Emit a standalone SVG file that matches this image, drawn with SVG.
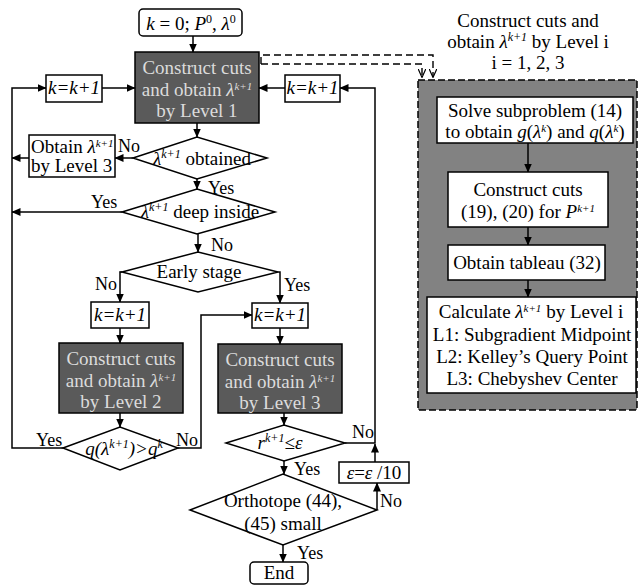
<svg xmlns="http://www.w3.org/2000/svg" width="641" height="587" viewBox="0 0 641 587">
<defs>
<marker id="ah" markerWidth="9" markerHeight="8" refX="8.5" refY="4" orient="auto" markerUnits="userSpaceOnUse"><path d="M0,0 L9,4 L0,8 z" fill="#000"/></marker>
<marker id="ao" markerWidth="9" markerHeight="8" refX="8.5" refY="4" orient="auto" markerUnits="userSpaceOnUse"><path d="M0,0 L9,4 L0,8" fill="none" stroke="#000" stroke-width="1.2"/></marker>
<style>
text{font-family:"Liberation Serif","Times New Roman",serif;font-size:19px;fill:#000;text-anchor:middle}
.lb{font-size:18px;text-anchor:start}
.st{text-anchor:start}
.i{font-style:italic}
.dk text{fill:#dcdcdc}
.box{fill:#fff;stroke:#000;stroke-width:1.5}
.dbox{fill:#5a5a5a;stroke:#000;stroke-width:1.5}
.dia{fill:#fff;stroke:#000;stroke-width:1.5}
#connectors path{fill:none;stroke:#000;stroke-width:1.5}
#connectors path.dash{stroke-dasharray:7,4;stroke-width:1.4}
</style>
</defs>
<rect width="641" height="587" fill="#fff"/>

<g id="panel">
<rect x="418" y="80" width="219" height="330" fill="#828282" stroke="#000" stroke-width="1.5" stroke-dasharray="7,3"/>
<text x="528" y="27">Construct cuts and</text>
<text x="528" y="48">obtain <tspan class="i">λ</tspan><tspan dy="-7" font-size="12" class="i">k+1</tspan><tspan dy="7"> by Level i</tspan></text>
<text x="528" y="69">i = 1, 2, 3</text>
</g>

<g id="connectors">
<path d="M193,36 V52" marker-end="url(#ah)"/>
<path d="M102,88 H135" marker-end="url(#ah)"/>
<path d="M285,88 H259" marker-end="url(#ah)"/>
<path d="M197,123 V137" marker-end="url(#ah)"/>
<path d="M133,158 H115" marker-end="url(#ah)"/>
<path d="M29,158 H12" marker-end="url(#ah)"/>
<path d="M197,179 V189" marker-end="url(#ah)"/>
<path d="M122,212 H12" marker-end="url(#ah)"/>
<path d="M198,234 V252" marker-end="url(#ah)"/>
<path d="M122,272 H120 V302" marker-end="url(#ah)"/>
<path d="M278,272 H280 V303" marker-end="url(#ah)"/>
<path d="M120,328 V343" marker-end="url(#ah)"/>
<path d="M280,328 V344" marker-end="url(#ah)"/>
<path d="M120,413 V427" marker-end="url(#ah)"/>
<path d="M284,413 V425" marker-end="url(#ah)"/>
<path d="M63,448 H12 V88 H46" marker-end="url(#ah)"/>
<path d="M178,448 H201 V315 H252" marker-end="url(#ah)"/>
<path d="M345,443 H375 V88 H340" marker-end="url(#ah)"/>
<path d="M375,462 V444" marker-end="url(#ah)"/>
<path d="M284,461 V474" marker-end="url(#ah)"/>
<path d="M377,510 V483" marker-end="url(#ah)"/>
<path d="M283,545 V562" marker-end="url(#ah)"/>
<path class="dash" d="M261,64 V55 H433 V77" marker-end="url(#ao)"/>
<path class="dash" d="M261,64 H422 V77" marker-end="url(#ao)"/>
<path d="M528,143 V172" marker-end="url(#ah)"/>
<path d="M528,227 V245" marker-end="url(#ah)"/>
<path d="M528,280 V297" marker-end="url(#ah)"/>
</g>

<g id="start">
<rect class="box" x="139" y="9" width="103" height="27" rx="4"/>
<text x="191" y="30"><tspan class="i">k</tspan> = 0; <tspan class="i">P</tspan><tspan dy="-7" font-size="12">0</tspan><tspan dy="7">, </tspan><tspan class="i">λ</tspan><tspan dy="-7" font-size="12">0</tspan></text>
</g>

<g id="level1" class="dk">
<rect class="dbox" x="135" y="52" width="124" height="71"/>
<text x="197" y="74">Construct cuts</text>
<text x="197" y="96">and obtain <tspan class="i">λ</tspan><tspan dy="-6" font-size="11" class="i">k+1</tspan></text>
<text x="197" y="117">by Level 1</text>
</g>

<g id="kL">
<rect class="box" x="46" y="75" width="56" height="27"/>
<text x="74" y="94" class="i">k=k+1</text>
</g>

<g id="kR">
<rect class="box" x="285" y="75" width="55" height="27"/>
<text x="312.5" y="94" class="i">k=k+1</text>
</g>

<g id="obtainL3">
<rect class="box" x="29" y="135" width="86" height="42"/>
<text x="31" y="153" class="st" font-size="17">Obtain <tspan class="i">λ</tspan><tspan dy="-6" font-size="11" class="i">k+1</tspan></text>
<text x="31" y="172" class="st" font-size="17">by Level 3</text>
</g>

<g id="dObtained">
<polygon class="dia" points="133,158 197,137 267,158 197,179"/>
<text x="202" y="165"><tspan class="i">λ</tspan><tspan dy="-7" font-size="12" class="i">k+1</tspan><tspan dy="7"> obtained</tspan></text>
</g>

<g id="dDeep">
<polygon class="dia" points="122,212 197,189 275,212 197,234"/>
<text x="200" y="218"><tspan class="i">λ</tspan><tspan dy="-7" font-size="12" class="i">k+1</tspan><tspan dy="7"> deep inside</tspan></text>
</g>

<g id="dEarly">
<polygon class="dia" points="122,272 198,252 278,272 198,292"/>
<text x="199" y="278">Early stage</text>
</g>

<g id="kL2">
<rect class="box" x="91" y="302" width="58" height="26"/>
<text x="120" y="321" class="i">k=k+1</text>
</g>

<g id="kR2">
<rect class="box" x="252" y="303" width="56" height="25"/>
<text x="280" y="321" class="i">k=k+1</text>
</g>

<g id="level2" class="dk">
<rect class="dbox" x="59" y="343" width="124" height="70"/>
<text x="121" y="365">Construct cuts</text>
<text x="121" y="387">and obtain <tspan class="i">λ</tspan><tspan dy="-6" font-size="11" class="i">k+1</tspan></text>
<text x="121" y="408">by Level 2</text>
</g>

<g id="level3" class="dk">
<rect class="dbox" x="218" y="344" width="124" height="69"/>
<text x="280" y="366">Construct cuts</text>
<text x="280" y="388">and obtain <tspan class="i">λ</tspan><tspan dy="-6" font-size="11" class="i">k+1</tspan></text>
<text x="280" y="409">by Level 3</text>
</g>

<g id="dQ">
<polygon class="dia" points="63,448 120,427 178,448 120,470"/>
<text x="124" y="455" class="i">q(λ<tspan dy="-7" font-size="12">k+1</tspan><tspan dy="7">)&gt;q</tspan><tspan dy="-7" font-size="12">k</tspan></text>
</g>

<g id="dR">
<polygon class="dia" points="226,443 284,425 345,443 284,461"/>
<text x="280" y="449"><tspan class="i">r</tspan><tspan dy="-7" font-size="12" class="i">k+1</tspan><tspan dy="7">≤</tspan><tspan class="i">ε</tspan></text>
</g>

<g id="eps">
<rect class="box" x="339" y="462" width="70" height="21"/>
<text x="374" y="479"><tspan class="i">ε</tspan>=<tspan class="i">ε</tspan> /10</text>
</g>

<g id="dOrtho">
<polygon class="dia" points="190,510 283,474 377,510 283,545"/>
<text x="283" y="507">Orthotope (44),</text>
<text x="283" y="530">(45) small</text>
</g>

<g id="end">
<rect class="box" x="250" y="562" width="58" height="22" rx="4"/>
<text x="279" y="579">End</text>
</g>

<g id="solve">
<rect class="box" x="437" y="97" width="196" height="46"/>
<text x="535" y="117">Solve subproblem (14)</text>
<text x="535" y="138">to obtain <tspan class="i">g</tspan>(<tspan class="i">λ</tspan><tspan dy="-6" font-size="11" class="i">k</tspan><tspan dy="6">) and </tspan><tspan class="i">q</tspan>(<tspan class="i">λ</tspan><tspan dy="-6" font-size="11" class="i">k</tspan><tspan dy="6">)</tspan></text>
</g>

<g id="cuts">
<rect class="box" x="448" y="172" width="160" height="55"/>
<text x="528" y="196">Construct cuts</text>
<text x="528" y="218">(19), (20) for <tspan class="i">P</tspan><tspan dy="-6" font-size="11" class="i">k+1</tspan></text>
</g>

<g id="tableau">
<rect class="box" x="448" y="245" width="157" height="35"/>
<text x="527" y="269">Obtain tableau (32)</text>
</g>

<g id="calc">
<rect class="box" x="427" y="297" width="209" height="96"/>
<text x="531" y="318">Calculate <tspan class="i">λ</tspan><tspan dy="-6" font-size="11" class="i">k+1</tspan><tspan dy="6"> by Level i</tspan></text>
<text x="532" y="341">L1: Subgradient Midpoint</text>
<text x="532" y="363">L2: Kelley’s Query Point</text>
<text x="532" y="385">L3: Chebyshev Center</text>
</g>

<g id="labels">
<text class="lb" x="118" y="152">No</text>
<text class="lb" x="208" y="194">Yes</text>
<text class="lb" x="91" y="208">Yes</text>
<text class="lb" x="211" y="251">No</text>
<text class="lb" x="95" y="290">No</text>
<text class="lb" x="284" y="291">Yes</text>
<text class="lb" x="36" y="446">Yes</text>
<text class="lb" x="176" y="446">No</text>
<text class="lb" x="352" y="438">No</text>
<text class="lb" x="294" y="475">Yes</text>
<text class="lb" x="380" y="507">No</text>
<text class="lb" x="297" y="559">Yes</text>
</g>
</svg>
